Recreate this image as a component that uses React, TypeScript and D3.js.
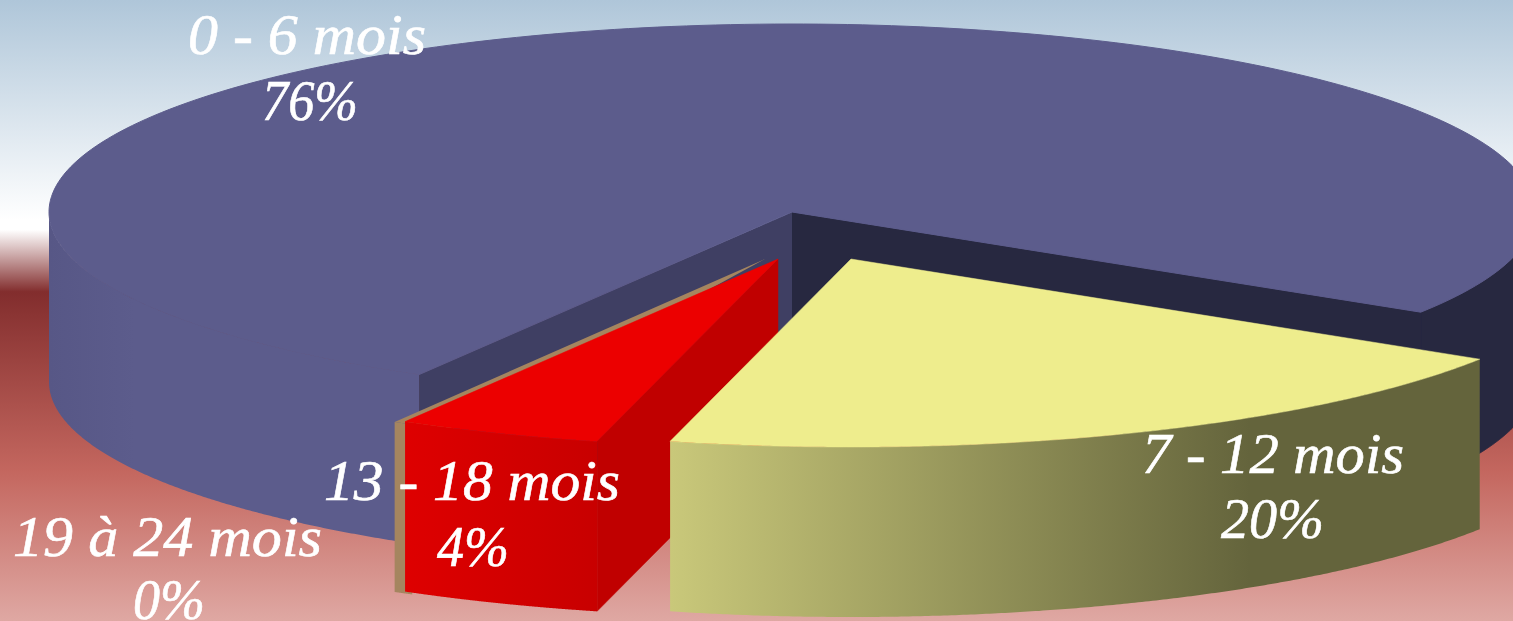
import React from "react";
import * as d3 from "d3";

// Age bands and their shares of the total (percent); labels show rounded shares.
const categories = ["7 - 12 mois", "13 - 18 mois", "19 à 24 mois", "0 - 6 mois"];
const shares = [19.95, 4.45, 0, 75.5];
const topColors = ["#eeed8d", "#ec0000", "#a5855f", "#5c5c8c"];

const WIDTH = 1513;
const HEIGHT = 621;
const CX = 792;
const CY = 212;
const RX = 743;
const RY = 188;
const DEPTH = 170;
const START = (32.2 * Math.PI) / 180;

// The empty band still gets a thin marker, most of it tucked under the red slice.
const MARKER_OUTER = (0.23 * Math.PI) / 180;
const MARKER_WALL = (1.55 * Math.PI) / 180;
const MARKER_TOP = (5 * Math.PI) / 180;

// Offsets of the pulled-out slices from the pie centre.
const offsets = [
  [59, 47],
  [-14, 47],
  [-27, 47],
  [0, 0],
];

// Label boxes: line widths are fixed so the stretched serif lettering keeps its span.
const labelBoxes = [
  { first: [1142, 473, 262], second: [1221, 538, 103] },
  { first: [324, 500, 296], second: [437, 566, 72] },
  { first: [13, 556, 309], second: [133, 619, 72] },
  { first: [188, 54, 238], second: [262, 120, 96] },
];

const slices = d3
  .pie<number>()
  .sort(null)
  .startAngle(START)
  .endAngle(START + 2 * Math.PI)(shares);

const xScale = d3.scaleLinear().domain([-1, 1]).range([CX - RX, CX + RX]);
const yScale = d3.scaleLinear().domain([-1, 1]).range([CY - RY, CY + RY]);
const line = d3.line();

const rim = (t: number, i: number, drop = 0): [number, number] => [
  xScale(Math.cos(t)) + offsets[i][0],
  yScale(Math.sin(t)) + offsets[i][1] + drop,
];
const hub = (i: number, drop = 0): [number, number] => [CX + offsets[i][0], CY + offsets[i][1] + drop];
const arcPoints = (a: number, b: number, i: number, drop = 0) =>
  d3.range(0, 241).map((k) => rim(a + ((b - a) * k) / 240, i, drop));

const topPath = (a: number, b: number, i: number) => line([hub(i), ...arcPoints(a, b, i)]) + "Z";
const wallPath = (a: number, b: number, i: number) =>
  line([...arcPoints(a, b, i), ...arcPoints(a, b, i, DEPTH).reverse()]) + "Z";
const cutPath = (t: number, i: number) =>
  line([hub(i), rim(t, i), rim(t, i, DEPTH), hub(i, DEPTH)]) + "Z";

const pct = d3.format(".0f");

export default function App() {
  const [yellow, red, empty, blue] = slices;
  const markerEdge = empty.startAngle - MARKER_OUTER;
  return (
    <svg
      width={WIDTH}
      height={HEIGHT}
      viewBox={`0 0 ${WIDTH} ${HEIGHT}`}
      style={{ position: "absolute", left: 0, top: 0, display: "block" }}
    >
      <defs>
        <linearGradient id="sky" x1="0" y1="0" x2="0" y2="1">
          <stop offset="0" stopColor="#afc6d9" />
          <stop offset="0.355" stopColor="#ffffff" />
          <stop offset="0.37" stopColor="#ffffff" />
          <stop offset="0.47" stopColor="#822d2d" />
          <stop offset="0.76" stopColor="#c4675f" />
          <stop offset="1" stopColor="#dfa8a3" />
        </linearGradient>
        <linearGradient id="blueWall" gradientUnits="userSpaceOnUse" x1="49" x2="135" y1="0" y2="0">
          <stop offset="0" stopColor="#575786" />
          <stop offset="1" stopColor="#5c5c8c" />
        </linearGradient>
        <linearGradient id="yellowWall" gradientUnits="userSpaceOnUse" x1="670" x2="1250" y1="0" y2="0">
          <stop offset="0" stopColor="#c9c87a" />
          <stop offset="1" stopColor="#64643c" />
        </linearGradient>
        <linearGradient id="redWall" gradientUnits="userSpaceOnUse" x1="405" x2="598" y1="0" y2="0">
          <stop offset="0" stopColor="#de0000" />
          <stop offset="1" stopColor="#c80000" />
        </linearGradient>
      </defs>

      <rect width={WIDTH} height={HEIGHT} fill="url(#sky)" />

      {/* Largest slice: walls and cut faces first, then the top */}
      <path d={wallPath(blue.startAngle, Math.PI, 3)} fill="url(#blueWall)" />
      <path d={wallPath(2 * Math.PI, blue.endAngle, 3)} fill="#272840" stroke="#272840" />
      <path d={cutPath(blue.endAngle, 3)} fill="#272840" stroke="#272840" />
      <path d={cutPath(blue.startAngle, 3)} fill="#3f3f63" />
      <path d={topPath(blue.startAngle, blue.endAngle, 3)} fill={topColors[3]} stroke={topColors[3]} />

      {/* Marker for the empty band */}
      <path d={wallPath(markerEdge, markerEdge - MARKER_WALL, 2)} fill={topColors[2]} />
      <path d={topPath(markerEdge, markerEdge - MARKER_TOP, 2)} fill={topColors[2]} />

      {/* Red slice */}
      <path d={cutPath(red.startAngle, 1)} fill="#c00000" stroke="#c00000" strokeWidth={0.5} />
      <path d={wallPath(red.startAngle, red.endAngle, 1)} fill="url(#redWall)" />
      <path d={topPath(red.startAngle, red.endAngle, 1)} fill={topColors[1]} stroke={topColors[1]} strokeWidth={0.5} />

      {/* Yellow slice */}
      <path d={wallPath(yellow.startAngle, yellow.endAngle, 0)} fill="url(#yellowWall)" />
      <path d={topPath(yellow.startAngle, yellow.endAngle, 0)} fill={topColors[0]} stroke={topColors[0]} strokeWidth={0.5} />

      {/* Labels */}
      <g
        fill="#ffffff"
        stroke="#ffffff"
        strokeWidth={0.6}
        fontFamily="'Liberation Serif', serif"
        fontStyle="italic"
        fontSize={56}
      >
        {categories.map((name, i) => (
          <g key={name}>
            <text
              x={labelBoxes[i].first[0]}
              y={labelBoxes[i].first[1]}
              textLength={labelBoxes[i].first[2]}
              lengthAdjust="spacingAndGlyphs"
            >
              {name}
            </text>
            <text
              x={labelBoxes[i].second[0]}
              y={labelBoxes[i].second[1]}
              textLength={labelBoxes[i].second[2]}
              lengthAdjust="spacingAndGlyphs"
            >
              {pct(shares[i])}%
            </text>
          </g>
        ))}
      </g>
    </svg>
  );
}
